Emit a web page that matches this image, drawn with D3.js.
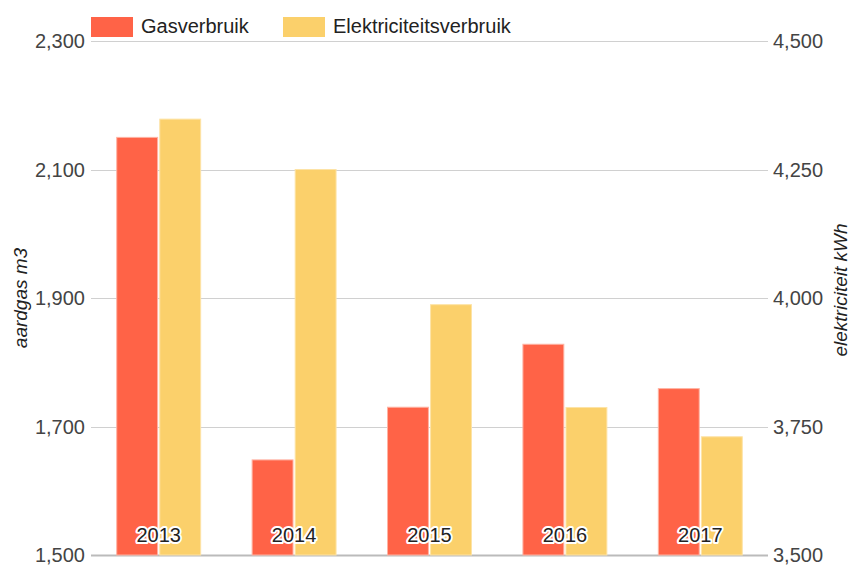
<!DOCTYPE html>
<html>
<head>
<meta charset="utf-8">
<script src="https://cdn.jsdelivr.net/npm/d3@7"></script>
<style>
  body { margin: 0; background: #fff; }
  svg { font-family: "Liberation Sans", Arial, sans-serif; }
</style>
</head>
<body>
<svg id="chart" width="850" height="567"></svg>
<script>
const years = ['2013', '2014', '2015', '2016', '2017'];
const gasValues = [2150, 1648, 1730, 1828, 1759];
const elecValues = [4348, 4250, 3987, 3787, 3730];
const seriesNames = ['Gasverbruik', 'Elektriciteitsverbruik'];
const gasTicks = [1500, 1700, 1900, 2100, 2300];
const elecTicks = [3500, 3750, 4000, 4250, 4500];

const width = 850, height = 567;
const margin = { top: 41, right: 82, bottom: 12, left: 91 };
const colors = { Gasverbruik: '#ff6347', Elektriciteitsverbruik: '#fbd06b' };

const svg = d3.select('#chart');

const x0 = d3.scaleBand()
  .domain(years)
  .range([margin.left, width - margin.right])
  .paddingInner(0.38)
  .paddingOuter(0.19);

const x1 = d3.scaleBand()
  .domain(seriesNames)
  .range([0, x0.bandwidth()])
  .paddingInner(0.05);

const yGas = d3.scaleLinear()
  .domain([1500, 2300])
  .range([height - margin.bottom, margin.top]);

const yElec = d3.scaleLinear()
  .domain([3500, 4500])
  .range([height - margin.bottom, margin.top]);

const fmt = d3.format(',');

// gridlines
svg.append('g')
  .selectAll('line')
  .data(gasTicks)
  .enter()
  .append('line')
  .attr('x1', margin.left)
  .attr('x2', width - margin.right)
  .attr('y1', d => Math.round(yGas(d)) + 0.5)
  .attr('y2', d => Math.round(yGas(d)) + 0.5)
  .attr('stroke', d => d === 1500 ? '#bbb' : '#d0d0d0')
  .attr('stroke-width', d => d === 1500 ? 2 : 1);

// left axis labels
svg.append('g')
  .selectAll('text')
  .data(gasTicks)
  .enter()
  .append('text')
  .attr('x', margin.left - 6)
  .attr('y', d => yGas(d) + 7)
  .attr('text-anchor', 'end')
  .style('font-size', '20px')
  .style('fill', '#444')
  .text(d => fmt(d));

// right axis labels
svg.append('g')
  .selectAll('text')
  .data(elecTicks)
  .enter()
  .append('text')
  .attr('x', width - margin.right + 5)
  .attr('y', d => yElec(d) + 7)
  .attr('text-anchor', 'start')
  .style('font-size', '20px')
  .style('fill', '#444')
  .text(d => fmt(d));

// axis titles
svg.append('text')
  .attr('transform', `translate(27,${(margin.top + height - margin.bottom) / 2}) rotate(-90)`)
  .attr('text-anchor', 'middle')
  .style('font-size', '19px')
  .style('font-style', 'italic')
  .style('fill', '#222')
  .text('aardgas m3');

svg.append('text')
  .attr('transform', `translate(847,290) rotate(-90)`)
  .attr('text-anchor', 'middle')
  .style('font-size', '19px')
  .style('font-style', 'italic')
  .style('fill', '#222')
  .text('elektriciteit kWh');

// bars
const rows = years.map((y, i) => ({ year: y, gas: gasValues[i], elec: elecValues[i] }));

const group = svg.append('g')
  .selectAll('g')
  .data(rows)
  .enter()
  .append('g')
  .attr('transform', d => `translate(${x0(d.year)},0)`);

group.append('rect')
  .attr('x', x1('Gasverbruik'))
  .attr('width', x1.bandwidth())
  .attr('y', d => yGas(d.gas))
  .attr('height', d => yGas(1500) - yGas(d.gas))
  .attr('fill', colors.Gasverbruik)
  .attr('stroke', '#ffb3a3')
  .attr('stroke-width', 1);

group.append('rect')
  .attr('x', x1('Elektriciteitsverbruik'))
  .attr('width', x1.bandwidth())
  .attr('y', d => yElec(d.elec))
  .attr('height', d => yElec(3500) - yElec(d.elec))
  .attr('fill', colors.Elektriciteitsverbruik)
  .attr('stroke', '#fde3a6')
  .attr('stroke-width', 1);

// year labels inside bars with halo
group.append('text')
  .attr('x', x0.bandwidth() / 2)
  .attr('y', height - margin.bottom - 13)
  .attr('text-anchor', 'middle')
  .style('font-size', '20px')
  .style('fill', '#222')
  .style('stroke', '#fff')
  .style('stroke-width', 4)
  .style('paint-order', 'stroke')
  .style('stroke-linejoin', 'round')
  .text(d => d.year);

// legend
const legendX = [91, 283];
const legend = svg.append('g')
  .selectAll('g')
  .data(seriesNames)
  .enter()
  .append('g')
  .attr('transform', (d, i) => `translate(${legendX[i]},17)`);

legend.append('rect')
  .attr('width', 42)
  .attr('height', 20)
  .attr('fill', d => colors[d]);

legend.append('text')
  .attr('x', 50)
  .attr('y', 16)
  .style('font-size', '20px')
  .style('fill', '#222')
  .text(d => d);
</script>
</body>
</html>
